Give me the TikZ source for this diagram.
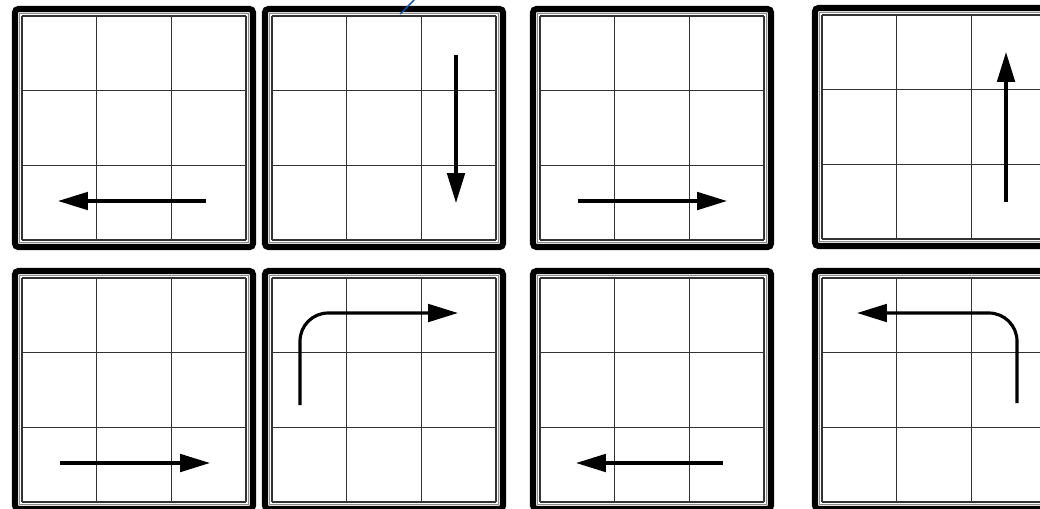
\documentclass[tikz,border=0pt]{standalone}
\usepackage{tikz}
\usetikzlibrary{arrows.meta}

\tikzset{
  outerframe/.style={line width=3.5pt, rounded corners=2pt},
  innerframe/.style={black!45, line width=0.7pt},
  cellgrid/.style={black!80, line width=0.7pt},
  move/.style={line width=1.8pt, -{Triangle[length=17pt,width=10pt]}},
  turn/.style={move, rounded corners=16pt},
}

\begin{document}
\begin{tikzpicture}[x=0.02cm,y=-0.02cm]
  \useasboundingbox (0,0) rectangle (1040,508);
  % the eight 3x3 boards
  \foreach \px/\py in {22/16,272/16,540/16,822/15,22/278,272/278,540/278,822/278}{
    \draw[outerframe] (\px-7,\py-7) rectangle (\px+231,\py+231);
    \draw[innerframe] (\px-2.5,\py-2.5) rectangle (\px+226.5,\py+226.5);
    \foreach \k in {0,1,2,3}{
      \draw[cellgrid] (\px+\k*74.67,\py) -- (\px+\k*74.67,\py+224);
      \draw[cellgrid] (\px,\py+\k*74.67) -- (\px+224,\py+\k*74.67);
    }
  }
  % pointer at the top
  \coordinate (ptrA) at (400,14); \coordinate (ptrB) at (414,0);
  \draw[blue!55!cyan!70!black, line width=0.8pt] (ptrA) -- (ptrB);
  % moves, top row
  \coordinate (s1) at (206,201); \coordinate (e1) at (58,201);
  \coordinate (s2) at (456,55);  \coordinate (e2) at (456,203);
  \coordinate (s3) at (578,201); \coordinate (e3) at (727,201);
  \coordinate (s4) at (1006,202); \coordinate (e4) at (1006,52);
  \draw[move] (s1) -- (e1);
  \draw[move] (s2) -- (e2);
  \draw[move] (s3) -- (e3);
  \draw[move] (s4) -- (e4);
  % moves, bottom row
  \coordinate (s5) at (60,463);  \coordinate (e5) at (210,463);
  \coordinate (s6) at (300,405); \coordinate (e6) at (458,313);
  \coordinate (s7) at (723,463); \coordinate (e7) at (576,463);
  \coordinate (s8) at (1017,403); \coordinate (e8) at (857,313);
  \draw[move] (s5) -- (e5);
  \draw[turn] (s6) |- (e6);
  \draw[move] (s7) -- (e7);
  \draw[turn] (s8) |- (e8);
\end{tikzpicture}
\end{document}
